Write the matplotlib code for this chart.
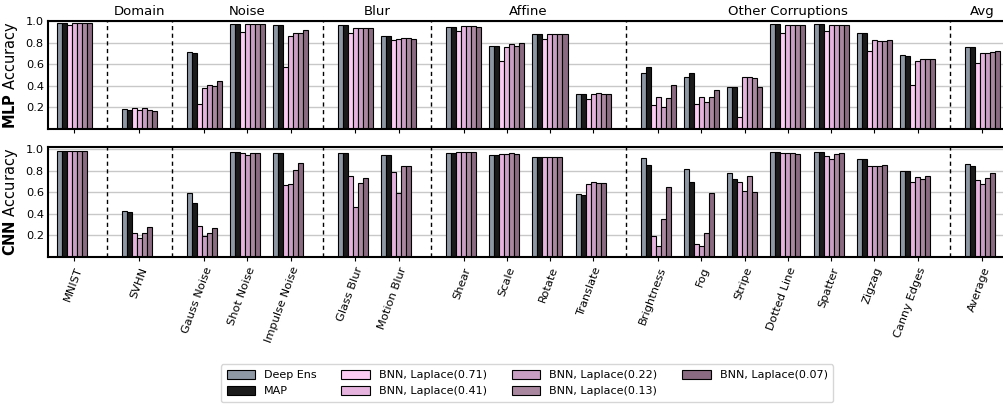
import matplotlib
matplotlib.use("Agg")
import matplotlib.pyplot as plt
import numpy as np

categories = [
    "MNIST", "SVHN", "Gauss Noise", "Shot Noise", "Impulse Noise",
    "Glass Blur", "Motion Blur", "Shear", "Scale", "Rotate", "Translate",
    "Brightness", "Fog", "Stripe", "Dotted Line", "Spatter", "Zigzag",
    "Canny Edges", "Average",
]
group_titles = ["", "Domain", "Noise", "Blur", "Affine", "Other Corruptions", "Avg"]
group_sizes = [1, 1, 3, 2, 4, 7, 1]

labels = [
    "Deep Ens", "MAP", "BNN, Laplace(0.71)", "BNN, Laplace(0.41)",
    "BNN, Laplace(0.22)", "BNN, Laplace(0.13)", "BNN, Laplace(0.07)",
]
colors = ["#8e98a5", "#1b1b1b", "#fdccf3", "#e5b3de", "#c99ec3", "#a9889f", "#8a6a81"]

# MLP accuracies
mlp_deep_ens = [0.98, 0.185, 0.714, 0.975, 0.966, 0.96, 0.862, 0.948, 0.772, 0.88, 0.323,
                0.52, 0.48, 0.388, 0.972, 0.97, 0.889, 0.683, 0.76]
mlp_map = [0.98, 0.175, 0.705, 0.975, 0.966, 0.96, 0.858, 0.948, 0.772, 0.877, 0.32,
           0.578, 0.514, 0.388, 0.972, 0.97, 0.886, 0.677, 0.76]
mlp_la071 = [0.96, 0.19, 0.23, 0.895, 0.578, 0.892, 0.82, 0.905, 0.625, 0.837, 0.274,
             0.218, 0.228, 0.114, 0.892, 0.905, 0.723, 0.406, 0.615]
mlp_la041 = [0.98, 0.18, 0.38, 0.975, 0.865, 0.932, 0.837, 0.954, 0.763, 0.88, 0.32,
             0.295, 0.292, 0.477, 0.963, 0.963, 0.82, 0.634, 0.708]
mlp_la022 = [0.98, 0.197, 0.41, 0.975, 0.886, 0.932, 0.846, 0.954, 0.785, 0.877, 0.33,
             0.2, 0.252, 0.477, 0.963, 0.963, 0.818, 0.652, 0.708]
mlp_la013 = [0.98, 0.172, 0.40, 0.975, 0.886, 0.938, 0.84, 0.954, 0.766, 0.877, 0.326,
             0.286, 0.30, 0.468, 0.963, 0.963, 0.818, 0.646, 0.714]
mlp_la007 = [0.98, 0.17, 0.446, 0.975, 0.914, 0.935, 0.837, 0.948, 0.794, 0.877, 0.32,
             0.403, 0.363, 0.388, 0.963, 0.963, 0.828, 0.646, 0.723]

# CNN accuracies (no Laplace(0.71) run)
cnn_deep_ens = [0.985, 0.425, 0.597, 0.978, 0.969, 0.963, 0.945, 0.969, 0.951, 0.926, 0.585,
                0.923, 0.822, 0.782, 0.972, 0.972, 0.914, 0.797, 0.868]
cnn_map = [0.985, 0.413, 0.498, 0.978, 0.963, 0.963, 0.945, 0.969, 0.951, 0.926, 0.578,
           0.855, 0.70, 0.72, 0.972, 0.972, 0.908, 0.803, 0.849]
cnn_la041 = [0.99, 0.225, 0.286, 0.963, 0.665, 0.748, 0.788, 0.972, 0.957, 0.932, 0.677,
             0.19, 0.12, 0.695, 0.963, 0.942, 0.849, 0.70, 0.717]
cnn_la022 = [0.99, 0.17, 0.194, 0.95, 0.677, 0.462, 0.59, 0.975, 0.96, 0.932, 0.70,
             0.098, 0.098, 0.609, 0.963, 0.908, 0.846, 0.742, 0.677]
cnn_la013 = [0.99, 0.222, 0.222, 0.963, 0.806, 0.686, 0.849, 0.978, 0.963, 0.932, 0.683,
             0.354, 0.218, 0.748, 0.963, 0.96, 0.846, 0.723, 0.738]
cnn_la007 = [0.99, 0.277, 0.271, 0.969, 0.877, 0.732, 0.849, 0.972, 0.957, 0.926, 0.683,
             0.646, 0.59, 0.60, 0.96, 0.966, 0.858, 0.748, 0.782]

mlp = [mlp_deep_ens, mlp_map, mlp_la071, mlp_la041, mlp_la022, mlp_la013, mlp_la007]
cnn = [cnn_deep_ens, cnn_map, cnn_la041, cnn_la022, cnn_la013, cnn_la007]
cnn_colors = [colors[0], colors[1]] + colors[3:]

# category positions with a 1.5 spacing between groups
positions = []
centers = []
separators = []
x = 0.0
for gi, size in enumerate(group_sizes):
    start = x
    for _ in range(size):
        positions.append(x)
        x += 1.0
    centers.append((start + x - 1.0) / 2)
    if gi < len(group_sizes) - 1:
        separators.append(x - 1.0 + 0.75)
    x += 0.5
positions = np.array(positions)

width = 0.1157
fig = plt.figure(figsize=(10.04, 4.08), dpi=100)
ax_top = fig.add_axes([0.0478, 0.684, 0.9522, 0.2645])
ax_bot = fig.add_axes([0.0478, 0.371, 0.9522, 0.268])


def draw(axis, series, series_colors, ylim_top):
    for i, (values, color) in enumerate(zip(series, series_colors)):
        axis.bar(positions + (i - 3) * width, values, width, color=color,
                 edgecolor="black", linewidth=0.8, zorder=2)
    for sep in separators:
        axis.axvline(sep, color="black", linestyle=(0, (3, 2.5)), linewidth=1.0, zorder=3)
    axis.set_xlim(-0.61, 21.5)
    axis.set_ylim(0, ylim_top)
    axis.set_yticks([0.2, 0.4, 0.6, 0.8, 1.0])
    axis.set_yticklabels(["0.2", "0.4", "0.6", "0.8", "1.0"], fontsize=8.2)
    axis.yaxis.grid(True, color="#c8c8c8", linewidth=1.0, zorder=0)
    axis.set_axisbelow(True)
    axis.tick_params(axis="y", length=0, pad=3)
    axis.tick_params(axis="x", length=3)
    axis.set_xticks(positions)
    axis.spines["right"].set_visible(False)
    for side in ("left", "bottom", "top"):
        axis.spines[side].set_linewidth(1.5)


draw(ax_top, mlp, colors, 1.0)
draw(ax_bot, cnn, cnn_colors, 1.02)

ax_top.set_xticklabels([])
ax_bot.set_xticklabels(categories, rotation=70, ha="right", rotation_mode="anchor",
                       fontsize=8.2)
ax_top.set_ylabel(r"$\mathbf{MLP}$ Accuracy", fontsize=10.5, labelpad=4)
ax_bot.set_ylabel(r"$\mathbf{CNN}$ Accuracy", fontsize=10.5, labelpad=4)

for center, title in zip(centers, group_titles):
    if title:
        ax_top.text(center, 1.025, title, ha="center", va="bottom", fontsize=9.5,
                    transform=ax_top.get_xaxis_transform())

handles = [plt.Rectangle((0, 0), 1, 1, facecolor=c, edgecolor="black", linewidth=0.8)
           for c in colors]
fig.legend(handles, labels, loc="center", bbox_to_anchor=(0.525, 0.061), ncol=4,
           fontsize=8, frameon=True, fancybox=True, handlelength=2.6, handleheight=0.9,
           columnspacing=2.2, borderpad=0.5, labelspacing=0.5)

fig.savefig("out.png", dpi=100)
